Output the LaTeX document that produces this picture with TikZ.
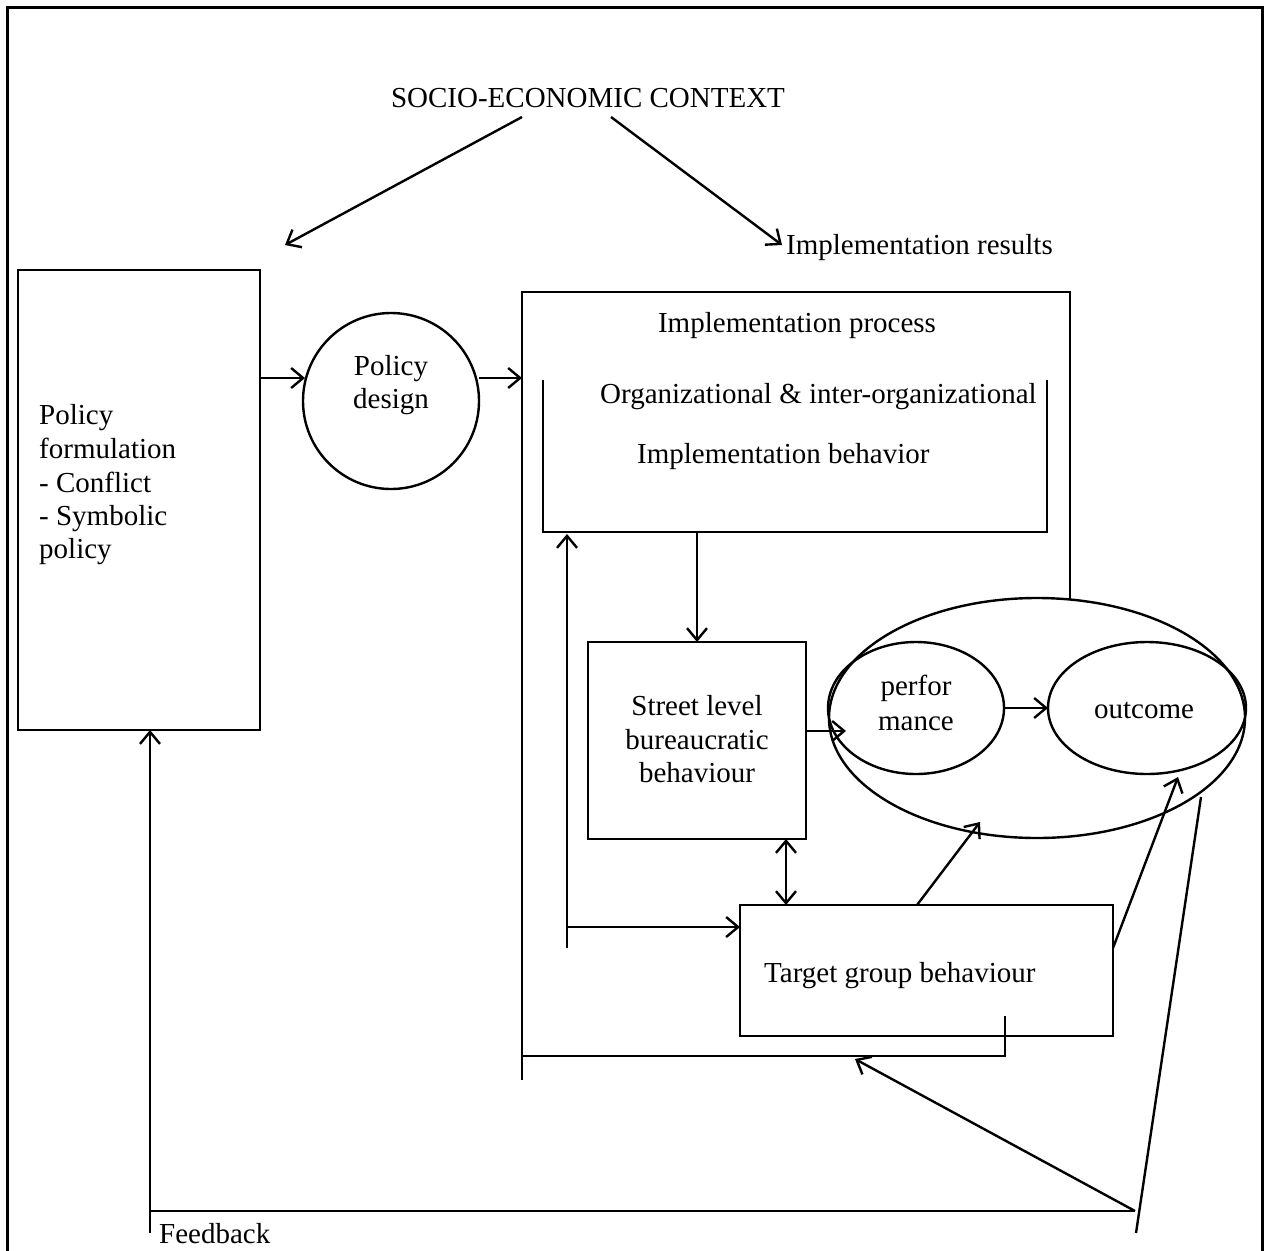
\documentclass[tikz,border=0pt]{standalone}
\usepackage{fontspec}
\setmainfont{Liberation Serif}
\usetikzlibrary{arrows.meta,shapes.geometric}
\begin{document}
\begin{tikzpicture}[x=1pt,y=-1pt,
  line width=2.4pt, line join=miter,
  arr/.style={-{Straight Barb[length=12pt,width=20pt]}},
  darr/.style={{Straight Barb[length=12pt,width=20pt]}-{Straight Barb[length=12pt,width=20pt]}},
  box/.style={draw, rectangle, inner sep=0pt, outer sep=0pt},
  oval/.style={draw, ellipse, inner sep=0pt, outer sep=0pt},
  txt/.style={inner sep=0pt, font=\fontsize{29}{34}\selectfont},
]
\useasboundingbox (0,0) rectangle (1265,1250);
\draw[line width=3pt] (7,1256) -- (7,7) -- (1262,7) -- (1262,1256);

% top context
\node[txt, anchor=base] (socio) at (588,107) {SOCIO-ECONOMIC CONTEXT};
\node[txt, anchor=base west] (results) at (785,254) {Implementation results};
\coordinate (s1) at (522,117);
\coordinate (s2) at (611,117);
\coordinate (t1) at (285,245);
\coordinate (t2) at (782,245);
\draw[arr] (s1) -- (t1);
\draw[arr] (s2) -- (t2);

% policy formulation
\node[box, minimum width=242pt, minimum height=460pt] (pf) at (139,500) {};
\node[txt, anchor=base west] (pf1) at (38,424) {Policy};
\node[txt, anchor=base west] (pf2) at (38,458) {formulation};
\node[txt, anchor=base west] (pf3) at (38,492) {- Conflict};
\node[txt, anchor=base west] (pf4) at (38,525) {- Symbolic};
\node[txt, anchor=base west] (pf5) at (38,558) {policy};

% policy design
\node[draw, circle, minimum size=176pt, inner sep=0pt, outer sep=0pt] (pd) at (391,401) {};
\node[txt, anchor=base] (pd1) at (391,375) {Policy};
\node[txt, anchor=base] (pd2) at (391,408) {design};

% implementation process frame
\coordinate (ipbl) at (522,1080);
\coordinate (iptl) at (522,292);
\coordinate (iptr) at (1070,292);
\coordinate (ipr) at (1070,599);
\draw (ipbl) -- (iptl) -- (iptr) -- (ipr);
\coordinate (ipb1) at (522,1056);
\coordinate (ipb2) at (1005,1056);
\coordinate (ipb3) at (1005,1016);
\draw (ipb1) -- (ipb2) -- (ipb3);
\node[txt, anchor=base] (ip) at (797,332) {Implementation process};

% organizational bracket
\coordinate (ob1) at (543,380);
\coordinate (ob2) at (543,532);
\coordinate (ob3) at (1047,532);
\coordinate (ob4) at (1047,380);
\draw (ob1) -- (ob2) -- (ob3) -- (ob4);
\node[txt, anchor=base west] (org1) at (599,403) {Organizational \& inter-organizational};
\node[txt, anchor=base west] (org2) at (636,463) {Implementation behavior};

% street level
\node[box, minimum width=218pt, minimum height=197pt] (sl) at (697,740.5) {};
\node[txt, anchor=base] (sl1) at (697,715) {Street level};
\node[txt, anchor=base] (sl2) at (697,749) {bureaucratic};
\node[txt, anchor=base] (sl3) at (697,782) {behaviour};

% target group
\node[box, minimum width=373pt, minimum height=131pt] (tg) at (926.5,970.5) {};
\node[txt, anchor=base west] (tg1) at (763,982) {Target group behaviour};

% ellipses
\node[oval, minimum width=416pt, minimum height=240pt] (big) at (1037,718) {};
\node[oval, minimum width=176pt, minimum height=132pt] (perf) at (916,708) {};
\node[oval, minimum width=198pt, minimum height=132pt] (outc) at (1147,708) {};
\node[txt, anchor=base] (perf1) at (916,695) {perfor};
\node[txt, anchor=base] (perf2) at (916,730) {mance};
\node[txt, anchor=base] (outc1) at (1144,718) {outcome};

% connectors
\coordinate (a1) at (260,378);
\coordinate (a2) at (305,378);
\draw[arr] (a1) -- (a2);
\coordinate (a3) at (479,378);
\coordinate (a4) at (522,378);
\draw[arr] (a3) -- (a4);
\draw[arr] ([yshift=110pt]sl.north) -- (sl.north);
\coordinate (a5) at (806,731);
\coordinate (a6) at (846,731);
\draw[arr] (a5) -- (a6);
\draw[arr] (perf.east) -- (outc.west);
\coordinate (d1) at (786,839);
\coordinate (d2) at (786,905);
\draw[darr] (d1) -- (d2);
\coordinate (u1) at (567,948);
\coordinate (u2) at (567,534);
\draw[arr] (u1) -- (u2);
\coordinate (h1) at (567,927);
\coordinate (h2) at (740,927);
\draw[arr] (h1) -- (h2);
\coordinate (g1) at (917,905);
\coordinate (g2) at (980,822);
\draw[arr] (g1) -- (g2);
\coordinate (g3) at (1113,948);
\coordinate (g4) at (1178,777);
\draw[arr] (g3) -- (g4);

% feedback
\coordinate (r1) at (1201,797);
\coordinate (r2) at (1136,1233);
\draw (r1) -- (r2);
\coordinate (fj) at (1135,1211);
\coordinate (fl) at (150,1211);
\coordinate (fb) at (150,1233);
\coordinate (ft) at (150,730);
\coordinate (fi) at (855,1059);
\draw (fl) -- (fj);
\draw[arr] (fb) -- (ft);
\draw[arr] (fj) -- (fi);
\node[txt, anchor=base west] (fbtext) at (158,1243) {Feedback};
\end{tikzpicture}
\end{document}
